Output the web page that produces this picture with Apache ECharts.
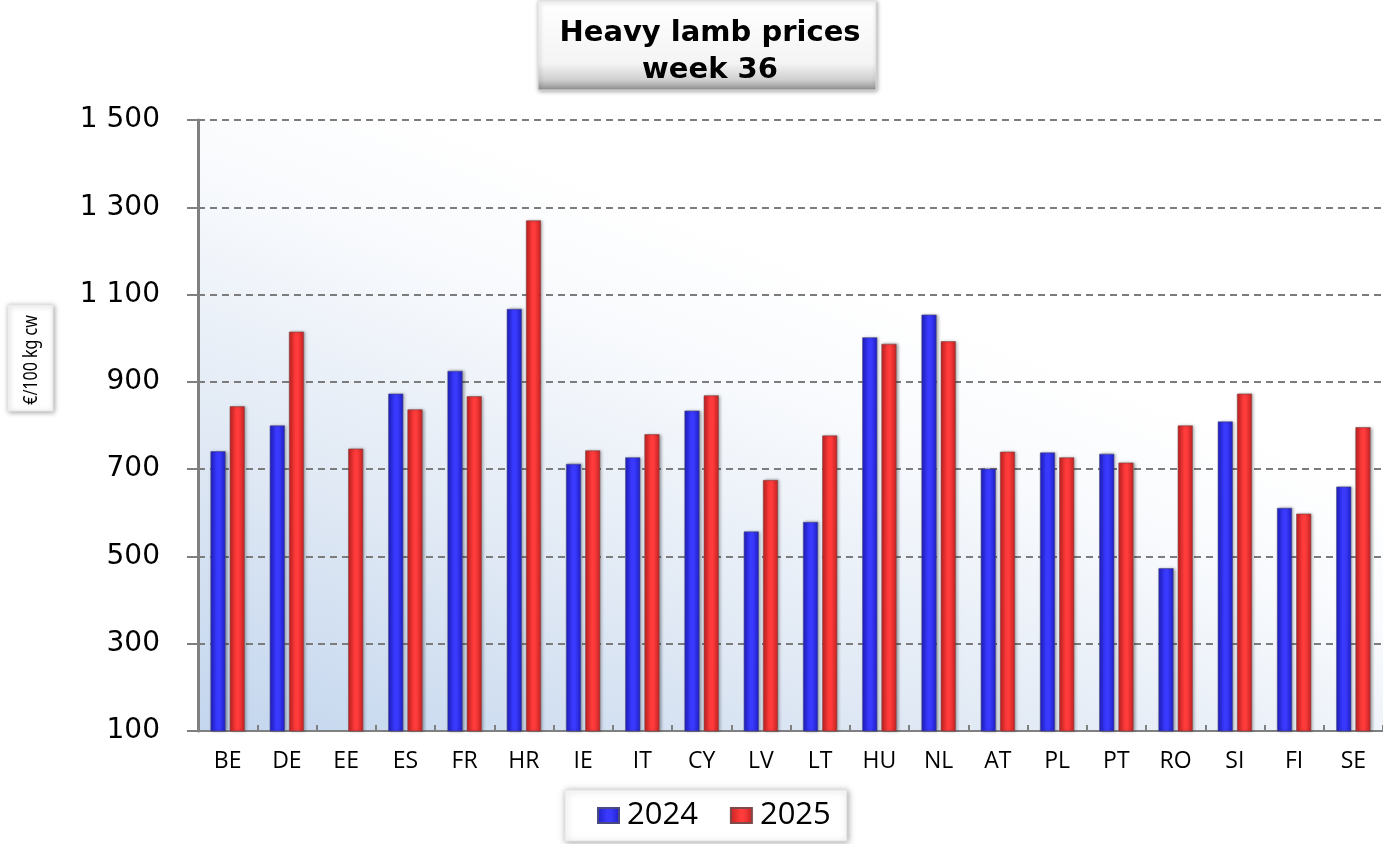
<!DOCTYPE html>
<html>
<head>
<meta charset="utf-8">
<script src="https://cdn.jsdelivr.net/npm/echarts@6/dist/echarts.min.js"></script>
<style>
html,body{margin:0;padding:0;background:#fff;}
#chart{width:1383px;height:844px;}
</style>
</head>
<body>
<div id="chart"></div>
<script>
const categories = ['BE','DE','EE','ES','FR','HR','IE','IT','CY','LV','LT','HU','NL','AT','PL','PT','RO','SI','FI','SE'];
const values2024 = [741, 800, null, 873, 925, 1067, 712, 727, 834, 557, 579, 1002, 1054, 701, 738, 735, 473, 809, 611, 660];
const values2025 = [844, 1015, 747, 837, 867, 1270, 743, 780, 869, 675, 777, 987, 993, 740, 727, 715, 800, 873, 598, 796];
const seriesNames = ['2024', '2025'];
const titleLines = ['Heavy lamb prices', 'week 36'];
const yAxisName = '€/100 kg cw';

const chart = echarts.init(document.getElementById('chart'), null, {renderer: 'canvas'});

function barGrad(edge, mid) {
  return new echarts.graphic.LinearGradient(0, 0, 1, 0, [
    {offset: 0, color: edge},
    {offset: 0.45, color: mid},
    {offset: 0.6, color: mid},
    {offset: 1, color: edge}
  ]);
}
const blueFill = barGrad('#1f1fc4', '#3a3aff');
const redFill = barGrad('#c42222', '#ff3b3b');

const option = {
  backgroundColor: '#ffffff',
  animation: false,
  title: {
    text: titleLines.join('\n'),
    left: 705,
    top: 10,
    textAlign: 'center',
    textStyle: {
      fontFamily: 'DejaVu Sans',
      fontWeight: 'bold',
      fontSize: 29,
      lineHeight: 37,
      color: '#000'
    }
  },
  graphic: [
    {
      type: 'rect',
      z: -1,
      shape: {x: 538, y: 1, width: 338, height: 89},
      style: {
        fill: new echarts.graphic.LinearGradient(0, 0, 0, 1, [
          {offset: 0, color: '#ffffff'},
          {offset: 0.7, color: '#f4f4f4'},
          {offset: 0.88, color: '#d0d0d0'},
          {offset: 1, color: '#8e8e8e'}
        ]),
        stroke: '#e0e0e0',
        lineWidth: 1,
        shadowBlur: 4,
        shadowColor: 'rgba(0,0,0,0.35)',
        shadowOffsetX: 1,
        shadowOffsetY: 1
      }
    },
    {
      type: 'rect',
      z: 10,
      shape: {x: 8, y: 305, width: 45, height: 106},
      style: {
        fill: '#ffffff',
        stroke: '#e6e6e6',
        lineWidth: 1,
        shadowBlur: 5,
        shadowColor: 'rgba(0,0,0,0.35)',
        shadowOffsetX: 1,
        shadowOffsetY: 1
      }
    },
    {
      type: 'text',
      z: 11,
      x: 31,
      y: 360,
      rotation: Math.PI / 2,
      scaleX: 0.8,
      style: {
        text: yAxisName,
        fontFamily: 'Noto Sans',
        fontSize: 20,
        fill: '#000',
        align: 'center',
        verticalAlign: 'middle'
      }
    }
  ],
  legend: {
    data: seriesNames,
    left: 565,
    top: 790,
    padding: [10, 16, 10, 32],
    itemGap: 32,
    itemWidth: 21,
    itemHeight: 15,
    icon: 'rect',
    backgroundColor: '#ffffff',
    borderColor: '#e4e4e4',
    borderWidth: 1,
    shadowBlur: 6,
    shadowColor: 'rgba(0,0,0,0.35)',
    shadowOffsetX: 1,
    shadowOffsetY: 1,
    textStyle: {
      fontFamily: 'Open Sans',
      fontSize: 31,
      color: '#000',
      padding: [0, 0, 0, 3]
    }
  },
  grid: {
    left: 198,
    right: 0,
    top: 120,
    bottom: 113,
    show: true,
    borderWidth: 0,
    backgroundColor: new echarts.graphic.LinearGradient(0, 1, 0.2, 0, [
      {offset: 0, color: '#c3d6ee'},
      {offset: 0.4, color: '#dfe8f4'},
      {offset: 0.8, color: '#f8fafd'},
      {offset: 1, color: '#ffffff'}
    ])
  },
  xAxis: {
    type: 'category',
    data: categories,
    axisLine: {show: true, lineStyle: {color: '#808080', width: 2}},
    axisTick: {show: true, inside: true, length: 6, lineStyle: {color: '#808080', width: 2}},
    axisLabel: {
      margin: 19,
      fontFamily: 'Open Sans',
      fontSize: 23,
      color: '#000'
    },
    splitLine: {show: false}
  },
  yAxis: {
    type: 'value',
    min: 100,
    max: 1500,
    interval: 200,
    axisLine: {show: true, lineStyle: {color: '#808080', width: 3}},
    axisTick: {show: true, inside: false, length: 11, lineStyle: {color: '#808080', width: 2}},
    axisLabel: {
      margin: 38,
      fontFamily: 'DejaVu Sans',
      fontSize: 28,
      color: '#000',
      formatter: function (v) {
        return String(v).replace(/\B(?=(\d{3})+(?!\d))/g, ' ');
      }
    },
    splitLine: {
      show: true,
      lineStyle: {color: '#7c7c7c', width: 2, type: [7, 5]}
    }
  },
  series: [
    {
      name: seriesNames[0],
      type: 'bar',
      data: values2024,
      barWidth: 15,
      barGap: '28%',
      itemStyle: {
        color: blueFill,
        borderColor: '#4a4a80',
        borderWidth: 0.6,
        shadowBlur: 3,
        shadowColor: 'rgba(0,0,0,0.35)',
        shadowOffsetX: 1.5
      }
    },
    {
      name: seriesNames[1],
      type: 'bar',
      data: values2025,
      barWidth: 15,
      barGap: '28%',
      itemStyle: {
        color: redFill,
        borderColor: '#804a4a',
        borderWidth: 0.6,
        shadowBlur: 3,
        shadowColor: 'rgba(0,0,0,0.35)',
        shadowOffsetX: 1.5
      }
    }
  ]
};
chart.setOption(option);
</script>
</body>
</html>
